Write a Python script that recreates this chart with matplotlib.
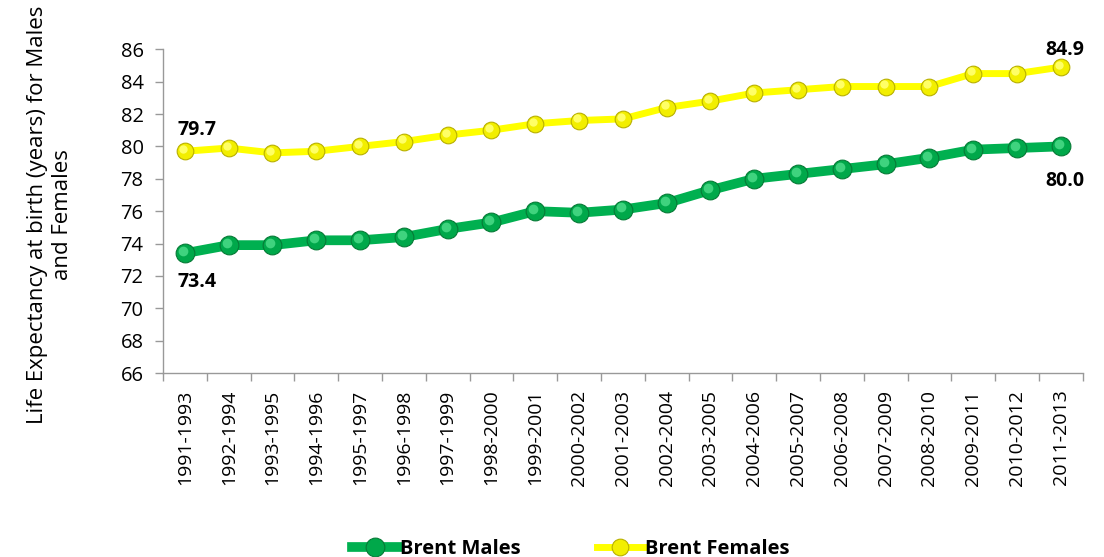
import matplotlib
matplotlib.use("Agg")
import matplotlib.pyplot as plt
from matplotlib.lines import Line2D
from matplotlib.transforms import ScaledTranslation

periods = ["1991-1993", "1992-1994", "1993-1995", "1994-1996", "1995-1997",
           "1996-1998", "1997-1999", "1998-2000", "1999-2001", "2000-2002",
           "2001-2003", "2002-2004", "2003-2005", "2004-2006", "2005-2007",
           "2006-2008", "2007-2009", "2008-2010", "2009-2011", "2010-2012",
           "2011-2013"]
males = [73.4, 73.9, 73.9, 74.2, 74.2, 74.4, 74.9, 75.3, 76.0, 75.9,
         76.1, 76.5, 77.3, 78.0, 78.3, 78.6, 78.9, 79.3, 79.8, 79.9, 80.0]
females = [79.7, 79.9, 79.6, 79.7, 80.0, 80.3, 80.7, 81.0, 81.4, 81.6,
           81.7, 82.4, 82.8, 83.3, 83.5, 83.7, 83.7, 83.7, 84.5, 84.5, 84.9]
yticks = list(range(66, 87, 2))

FONT = "Open Sans"
plt.rcParams["font.family"] = [FONT, "DejaVu Sans"]

fig = plt.figure(figsize=(11.04, 5.57), dpi=100)
ax = fig.add_axes([163 / 1104, 1 - 373 / 557, (1082.7 - 163) / 1104, (373 - 49.3) / 557])

x = list(range(len(periods)))
GREEN = "#00B050"
YELLOW = "#FFFF00"
hl = ax.transData + ScaledTranslation(-1.5 / 72, 1.5 / 72, fig.dpi_scale_trans)

ax.plot(x, males, color=GREEN, lw=7, marker="o", ms=13.5,
        markerfacecolor="#00A84A", markeredgecolor="#067a36", markeredgewidth=0.8,
        solid_capstyle="butt", zorder=3)
ax.plot(x, males, lw=0, marker="o", ms=7, markerfacecolor="#3fd37e",
        markeredgewidth=0, transform=hl, zorder=4)
ax.plot(x, females, color=YELLOW, lw=5.0, marker="o", ms=12,
        markerfacecolor="#F2EE00", markeredgecolor="#b8b000", markeredgewidth=0.8,
        solid_capstyle="butt", zorder=3)
ax.plot(x, females, lw=0, marker="o", ms=6, markerfacecolor="#ffff66",
        markeredgewidth=0, transform=hl, zorder=4)

# data labels
lab_kw = dict(fontsize=14, fontweight="bold", color="black", ha="center",
              va="center", textcoords="offset points")
ax.annotate(f"{females[0]:.1f}", (x[0], females[0]), xytext=(9, 15), **lab_kw)
ax.annotate(f"{males[0]:.1f}", (x[0], males[0]), xytext=(9, -21), **lab_kw)
ax.annotate(f"{females[-1]:.1f}", (x[-1], females[-1]), xytext=(3, 12), **lab_kw)
ax.annotate(f"{males[-1]:.1f}", (x[-1], males[-1]), xytext=(3, -25), **lab_kw)

ax.set_xlim(-0.5, len(periods) - 0.5)
ax.set_ylim(66, 86)
ax.set_yticks(yticks)
ax.set_yticklabels([str(v) for v in yticks], fontsize=14.5)
ax.set_xticks(x)
ax.set_xticklabels(periods, rotation=90, fontsize=14)
ax.set_xticks([i - 0.5 for i in range(len(periods) + 1)], minor=True)
ax.tick_params(axis="x", which="major", length=0, pad=12)
ax.tick_params(axis="x", which="minor", length=6, color="#999999", width=1)
ax.tick_params(axis="y", length=6, color="#999999", width=1, pad=8)

for s in ["top", "right"]:
    ax.spines[s].set_visible(False)
for s in ["left", "bottom"]:
    ax.spines[s].set_color("#999999")
    ax.spines[s].set_linewidth(1)

fig.text(50 / 1104, 1 - 215 / 557,
         "Life Expectancy at birth (years) for Males\nand Females",
         rotation=90, ha="center", va="center", multialignment="center",
         fontsize=16, linespacing=1.3)

handles = [
    Line2D([], [], color=GREEN, lw=7, marker="o", ms=13.5,
           markerfacecolor="#00A84A", markeredgecolor="#067a36", markeredgewidth=0.8),
    Line2D([], [], color=YELLOW, lw=5.0, marker="o", ms=12,
           markerfacecolor="#F2EE00", markeredgecolor="#b8b000", markeredgewidth=0.8),
]
fig.legend(handles, ["Brent Males", "Brent Females"], loc="center",
           bbox_to_anchor=(0.517, 0.014), ncol=2, frameon=False,
           prop={"family": FONT, "size": 14.5, "weight": "bold"},
           handlelength=2.3, handletextpad=0.1, columnspacing=3.8)

fig.savefig("out.png", dpi=100)
